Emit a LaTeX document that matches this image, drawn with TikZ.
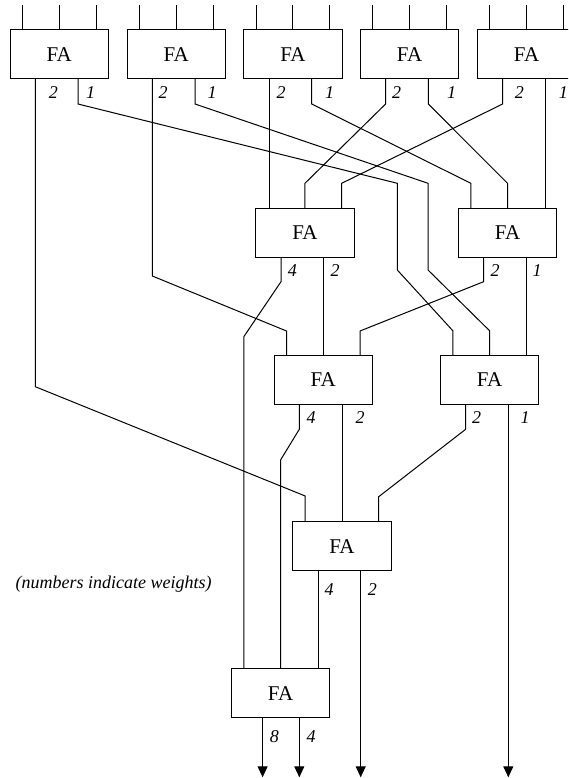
\documentclass[tikz,border=0pt]{standalone}
\usepackage{fontspec}
\setmainfont{Liberation Serif}
\usetikzlibrary{arrows.meta,calc}

\tikzset{
  fa/.style={draw, line width=1pt, minimum width=98.5pt, minimum height=49pt,
    anchor=north west, inner sep=0pt, outer sep=0pt,
    font=\fontsize{21}{21}\selectfont},
  wire/.style={line width=1pt},
  outwire/.style={wire, -{Triangle[width=10pt,length=11pt]}},
  wt/.style={font=\fontsize{18}{18}\selectfont\itshape, inner sep=0pt},
}

% full adder block with its three inputs and its two outputs (left: carry, right: sum)
\newcommand\faunit[3]{%
  \node[fa] (#1) at (#2,#3) {FA};
  \coordinate (#1-i1) at ($(#1.north west)+(12.5,0)$);
  \coordinate (#1-i2) at ($(#1.north west)+(49.25,0)$);
  \coordinate (#1-i3) at ($(#1.north west)+(86,0)$);
  \coordinate (#1-oL) at ($(#1.south west)+(25.3,0)$);
  \coordinate (#1-oR) at ($(#1.south west)+(68,0)$);
}

\begin{document}
\begin{tikzpicture}[x=1pt,y=-1pt]
\useasboundingbox (0,0) rectangle (568,778);
\clip (0,0) rectangle (568,778);

% first layer
\faunit{b1}{10}{30}
\faunit{b2}{127}{30}
\faunit{b3}{243.7}{30}
\faunit{b4}{360.3}{30}
\faunit{b5}{477.3}{30}
% second layer
\faunit{b6}{255.7}{208.3}
\faunit{b7}{458.3}{208.3}
% third layer
\faunit{b8}{274}{355}
\faunit{b9}{440.3}{355}
% fourth and fifth layers
\faunit{b10}{292.7}{521.7}
\faunit{b11}{231.3}{668.7}
\coordinate (b11-oL) at ($(b11.south west)+(31.3,0)$);

\coordinate (yb) at (0,777.3);

% primary inputs
\foreach \b in {b1,b2,b3,b4,b5}
  \foreach \i in {i1,i2,i3}
    \draw[wire] (\b-\i) -- ++(0,-24.5);

% first layer to second and third layers
\draw[wire] (b1-oL) -- ++(0,307.7) -- ($(b10-i1)+(0,-25.7)$) -- (b10-i1);
\draw[wire] (b1-oR) -- ++(0,25) -- (397.3,183.3) -- (397.3,270) -- ($(b9-i1)+(0,-24.3)$) -- (b9-i1);
\draw[wire] (b2-oL) -- ++(0,197) -- ($(b8-i1)+(0,-24)$) -- (b8-i1);
\draw[wire] (b2-oR) -- ++(0,25) -- (428,183.3) -- (428,270) -- ($(b9-i2)+(0,-24.3)$) -- (b9-i2);
\draw[wire] (b3-oL) -- (b3-oL |- b6.north);
\draw[wire] (b3-oR) -- ++(0,25) -- ($(b7-i1)+(0,-25)$) -- (b7-i1);
\draw[wire] (b4-oL) -- ++(0,25) -- ($(b6-i2)+(0,-25)$) -- (b6-i2);
\draw[wire] (b4-oR) -- ++(0,25) -- ($(b7-i2)+(0,-25)$) -- (b7-i2);
\draw[wire] (b5-oL) -- ++(0,25) -- ($(b6-i3)+(0,-25)$) -- (b6-i3);
\draw[wire] (b5-oR) -- (b5-oR |- b7.north);

% second layer
\draw[wire] (b6-oL) -- ++(0,24.4) -- ($(b11-i1)+(0,-332)$) -- (b11-i1);
\draw[wire] (b6-oR) -- (b6-oR |- b8.north);
\draw[wire] (b7-oL) -- ++(0,24.4) -- ($(b8-i3)+(0,-24)$) -- (b8-i3);
\draw[wire] (b7-oR) -- (b7-oR |- b9.north);

% third layer
\draw[wire] (b8-oL) -- ++(0,25.3) -- ($(b11-i2)+(0,-208.7)$) -- (b11-i2);
\draw[wire] (b8-oR) -- (b8-oR |- b10.north);
\draw[wire] (b9-oL) -- ++(0,25.3) -- ($(b10-i3)+(0,-25)$) -- (b10-i3);
\draw[outwire] (b9-oR) -- (b9-oR |- yb);

% last layers
\draw[wire] (b10-oL) -- (b10-oL |- b11.north);
\draw[outwire] (b10-oR) -- (b10-oR |- yb);
\draw[outwire] (b11-oL) -- (b11-oL |- yb);
\draw[outwire] (b11-oR) -- (b11-oR |- yb);

% weights
\node[wt] (w1a) at (53.3,92.5) {2};
\node[wt] (w1b) at (90.7,92.5) {1};
\node[wt] (w2a) at (163,92.5) {2};
\node[wt] (w2b) at (212,92.5) {1};
\node[wt] (w3a) at (281,92.5) {2};
\node[wt] (w3b) at (329.7,92.5) {1};
\node[wt] (w4a) at (396.7,92.5) {2};
\node[wt] (w4b) at (451.7,92.5) {1};
\node[wt] (w5a) at (519.3,92.5) {2};
\node[wt] (w5b) at (563.3,92.5) {1};
\node[wt] (w6a) at (292.3,270.5) {4};
\node[wt] (w6b) at (335,270.5) {2};
\node[wt] (w7a) at (495,270.5) {2};
\node[wt] (w7b) at (537,270.5) {1};
\node[wt] (w8a) at (311,417.7) {4};
\node[wt] (w8b) at (360,417.7) {2};
\node[wt] (w9a) at (476.7,417.7) {2};
\node[wt] (w9b) at (525,417.7) {1};
\node[wt] (w10a) at (329,589.3) {4};
\node[wt] (w10b) at (372.3,589.3) {2};
\node[wt] (w11a) at (274.3,736.7) {8};
\node[wt] (w11b) at (311,736.7) {4};

\node[wt] (note) at (113.7,584.3) {(numbers indicate weights)};
\end{tikzpicture}
\end{document}
